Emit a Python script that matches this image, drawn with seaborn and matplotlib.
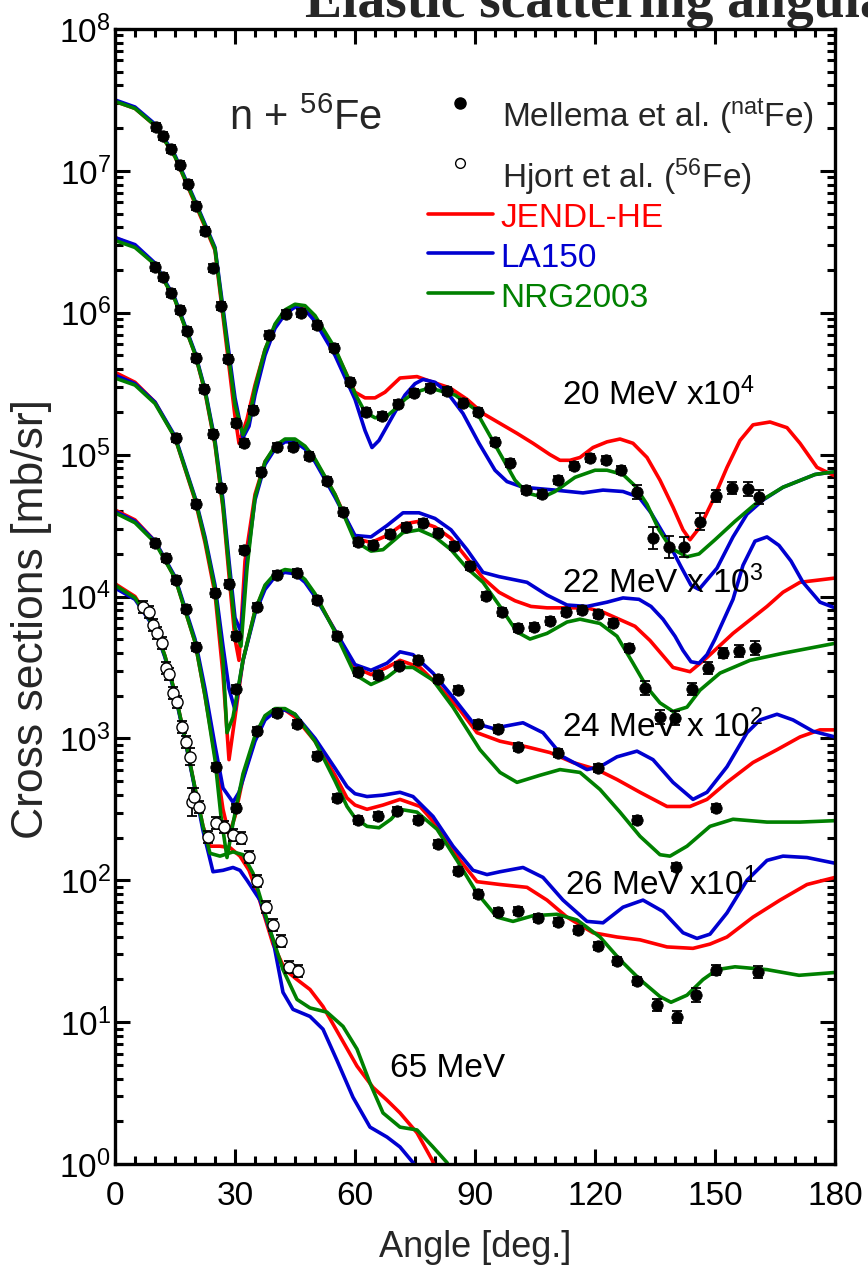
import numpy as np
import pandas as pd
import matplotlib
matplotlib.use("Agg")
import matplotlib.pyplot as plt
import seaborn as sns
from matplotlib.ticker import FixedLocator, MultipleLocator, FuncFormatter, NullFormatter

# ---------------------------------------------------------------------------
# Evaluated curves: (angle [deg], log10 of d(sigma)/d(Omega) [mb/sr]),
# already multiplied by the offset factor of each energy.
# ---------------------------------------------------------------------------
jendl_20 = [(0, 7.49), (5, 7.44), (10, 7.32), (15, 7.10), (20, 6.77), (25, 6.44), (28, 5.74), (30, 5.27),
            (31, 5.08), (33, 5.25), (35, 5.49), (37.5, 5.74), (40, 5.91), (42.5, 6.01), (45, 6.05),
            (47.5, 6.03), (50, 5.96), (55, 5.74), (60, 5.44), (62.5, 5.40), (65, 5.40), (67.5, 5.44),
            (71.25, 5.54), (75.5, 5.55), (79.5, 5.51), (83.75, 5.47), (88, 5.39), (92, 5.29), (96.25, 5.22),
            (100.5, 5.15), (104.5, 5.08), (108.75, 5.00), (111.25, 4.96), (113.75, 4.96), (116.25, 4.98),
            (119.5, 5.05), (123, 5.09), (126.25, 5.11), (129.5, 5.08), (133, 4.98), (136.25, 4.82),
            (139.5, 4.63), (142, 4.47), (143.75, 4.40), (146.25, 4.49), (149.5, 4.68), (153, 4.91),
            (156.25, 5.10), (159.5, 5.21), (163.75, 5.23), (168, 5.19), (171.25, 5.08), (175.5, 4.91),
            (180, 4.85)]
la150_20 = [(0, 7.50), (5, 7.45), (10, 7.33), (15, 7.11), (20, 6.79), (25, 6.46), (28, 5.82), (30, 5.40),
            (32, 5.12), (33.5, 5.20), (35, 5.42), (37.5, 5.70), (40, 5.89), (42.5, 5.99), (45, 6.04),
            (47.5, 6.02), (50, 5.94), (55, 5.70), (60, 5.39), (62.5, 5.17), (64.25, 5.05), (66, 5.10),
            (68, 5.20), (70, 5.30), (72.5, 5.42), (75, 5.50), (77, 5.53), (80, 5.51), (83, 5.44), (87, 5.29),
            (91, 5.08), (95, 4.89), (98, 4.81), (102, 4.77), (110, 4.75), (117, 4.73), (122, 4.75),
            (127, 4.74), (131, 4.70), (134, 4.59), (138, 4.40), (141.5, 4.21), (144, 4.08), (146, 4.05),
            (150.5, 4.20), (154.5, 4.42), (158, 4.58), (162, 4.68), (167, 4.77), (175, 4.86), (180, 4.88)]
nrg_20 = [(0, 7.49), (5, 7.44), (10, 7.32), (15, 7.10), (20, 6.78), (25, 6.45), (28, 5.78), (30, 5.35),
          (32, 5.14), (33.5, 5.24), (35, 5.47), (37.5, 5.74), (40, 5.92), (42.5, 6.02), (45, 6.06),
          (47.5, 6.05), (50, 5.98), (55, 5.75), (60, 5.43), (62.5, 5.30), (65, 5.26), (67.5, 5.26),
          (70, 5.32), (72.5, 5.39), (75, 5.44), (77.5, 5.46), (80, 5.46), (85, 5.42), (90, 5.32),
          (95, 5.07), (100, 4.82), (103, 4.73), (107, 4.70), (110, 4.74), (115, 4.84), (120, 4.89),
          (123, 4.89), (127, 4.86), (130, 4.78), (133, 4.65), (136, 4.47), (139, 4.34), (143, 4.28),
          (146, 4.30), (150, 4.40), (155, 4.53), (160, 4.65), (167, 4.77), (175, 4.86), (180, 4.88)]

jendl_22 = [(0, 6.53), (5, 6.47), (10, 6.34), (15, 6.09), (20, 5.71), (22.5, 5.44), (25, 5.07), (27, 4.62),
            (28.5, 4.15), (30, 3.70), (31, 3.55), (32.5, 4.25), (35, 4.72), (37.5, 4.95), (40, 5.05),
            (42.5, 5.10), (45, 5.10), (47.5, 5.05), (50, 4.96), (55, 4.72), (60, 4.41), (64, 4.38),
            (68, 4.43), (72, 4.51), (76, 4.53), (80, 4.49), (84, 4.41), (88, 4.27), (92, 4.13), (96, 4.03),
            (100, 3.97), (104, 3.93), (108, 3.92), (113, 3.92), (118, 3.92), (122, 3.89), (126, 3.84),
            (130, 3.79), (133.75, 3.69), (139.5, 3.50), (143.75, 3.47), (148, 3.57), (154.5, 3.74),
            (163, 3.93), (167, 4.03), (171.25, 4.10), (180, 4.13)]
la150_22 = [(0, 6.53), (5, 6.48), (10, 6.35), (15, 6.10), (20, 5.72), (22.5, 5.46), (25, 5.10), (27, 4.68),
            (28.5, 4.25), (30, 3.85), (31.5, 3.75), (33, 4.25), (35, 4.68), (37.5, 4.93), (40, 5.04),
            (42.5, 5.09), (45, 5.09), (47.5, 5.04), (50, 4.95), (55, 4.70), (60, 4.43), (64, 4.42),
            (68, 4.50), (72, 4.59), (76, 4.59), (80, 4.55), (84, 4.47), (88, 4.33), (92, 4.17), (96, 4.14),
            (103, 4.10), (108, 4.01), (113, 3.94), (118, 3.93), (123, 3.96), (127, 3.99), (131, 3.98),
            (134, 3.93), (137, 3.84), (140, 3.72), (142, 3.62), (144, 3.54), (146, 3.53), (148, 3.59),
            (150, 3.70), (154.5, 3.98), (157, 4.22), (160, 4.39), (163, 4.42), (166, 4.36), (169, 4.25),
            (172, 4.10), (176.25, 3.96), (180, 3.92)]
nrg_22 = [(0, 6.51), (5, 6.46), (10, 6.34), (15, 6.09), (20, 5.71), (22.5, 5.45), (25, 5.08), (27, 4.64),
          (28.5, 4.20), (30, 3.78), (31.5, 3.65), (33, 4.20), (35, 4.70), (37.5, 4.95), (40, 5.06),
          (42.5, 5.11), (45, 5.11), (47.5, 5.06), (50, 4.97), (55, 4.72), (60, 4.39), (64, 4.32), (67, 4.33),
          (72, 4.45), (76, 4.47), (80, 4.42), (84, 4.33), (88, 4.20), (92, 4.10), (96.25, 3.93),
          (100.5, 3.75), (103.75, 3.70), (108, 3.74), (113, 3.82), (116.25, 3.84), (121.25, 3.81),
          (125.5, 3.72), (129.5, 3.53), (133, 3.36), (136.25, 3.25), (139.5, 3.19), (143, 3.22),
          (146.25, 3.34), (151.25, 3.46), (158.75, 3.55), (167, 3.60), (180, 3.67)]

jendl_24 = [(0, 5.58), (5, 5.51), (10, 5.37), (15, 5.12), (20, 4.68), (22.5, 4.38), (25, 4.02), (27, 3.45),
            (28.5, 2.85), (30, 3.15), (32, 3.55), (35, 3.90), (37.5, 4.07), (40, 4.15), (42.5, 4.18),
            (45, 4.17), (47.5, 4.11), (50, 4.01), (55, 3.76), (60, 3.50), (64, 3.45), (68, 3.50),
            (71.25, 3.55), (76.25, 3.50), (81.25, 3.36), (86.25, 3.20), (90.5, 3.04), (96.25, 2.98),
            (103, 2.94), (108.75, 2.90), (114.5, 2.83), (120.5, 2.78), (125.5, 2.71), (131.25, 2.62),
            (138, 2.52), (143.75, 2.52), (148, 2.57), (153, 2.69), (159.5, 2.83), (165.5, 2.92),
            (171.25, 3.01), (176.25, 3.06), (180, 3.06)]
la150_24 = [(0, 5.56), (5, 5.50), (10, 5.37), (15, 5.13), (20, 4.70), (22.5, 4.42), (25, 4.08), (27, 3.65),
            (28.5, 3.35), (30, 3.20), (32, 3.55), (35, 3.88), (37.5, 4.05), (40, 4.14), (42.5, 4.17),
            (45, 4.16), (47.5, 4.10), (50, 4.00), (55, 3.76), (60, 3.52), (64, 3.48), (68, 3.53),
            (71.25, 3.61), (74.5, 3.59), (79.5, 3.46), (84.5, 3.29), (89.5, 3.11), (94.5, 3.07), (102, 3.11),
            (107, 3.04), (112, 2.87), (118, 2.78), (121.25, 2.80), (125.5, 2.87), (130.5, 2.91),
            (134.5, 2.85), (139.5, 2.69), (144.5, 2.57), (148, 2.62), (153, 2.80), (158, 3.04),
            (161.25, 3.13), (165.5, 3.17), (169.5, 3.13), (174.5, 3.05), (180, 3.01)]
nrg_24 = [(0, 5.54), (5, 5.49), (10, 5.36), (15, 5.12), (20, 4.69), (22.5, 4.40), (25, 4.05), (27, 3.55),
          (28, 3.04), (29.5, 3.15), (32, 3.55), (35, 3.90), (37.5, 4.08), (40, 4.16), (42.5, 4.19),
          (45, 4.18), (47.5, 4.12), (50, 4.02), (55, 3.75), (60, 3.45), (64, 3.38), (68, 3.43),
          (71.25, 3.50), (74.5, 3.50), (79.5, 3.41), (84.5, 3.22), (91.25, 2.92), (96.25, 2.76),
          (100.5, 2.69), (106.25, 2.74), (111.25, 2.78), (116.25, 2.76), (121.25, 2.64), (126.25, 2.48),
          (131.25, 2.31), (136.25, 2.18), (138.75, 2.17), (143, 2.24), (148.75, 2.38), (154.5, 2.43),
          (163, 2.41), (171.25, 2.41), (180, 2.42)]

jendl_26 = [(0, 4.61), (5, 4.54), (10, 4.39), (15, 4.13), (20, 3.68), (22.5, 3.30), (25, 2.88), (27, 2.50),
            (28.5, 2.32), (30, 2.45), (32, 2.72), (35, 3.00), (37.5, 3.15), (40, 3.20), (42.5, 3.20),
            (45, 3.15), (50, 2.98), (55, 2.74), (58, 2.58), (60, 2.53), (63, 2.50), (67, 2.53),
            (71.25, 2.57), (76.25, 2.52), (81.25, 2.36), (86.25, 2.14), (90.5, 1.99), (96.25, 1.97),
            (103, 1.95), (108, 1.86), (113, 1.74), (119.5, 1.63), (125.5, 1.60), (131.25, 1.58), (138, 1.53),
            (144.5, 1.52), (148.75, 1.55), (153, 1.60), (159.5, 1.74), (166.25, 1.86), (173, 1.97),
            (180, 2.02)]
la150_26 = [(0, 4.60), (5, 4.53), (10, 4.39), (15, 4.14), (20, 3.70), (22.5, 3.35), (25, 2.95), (27, 2.65),
            (29.5, 2.55), (31, 2.62), (33, 2.80), (35, 2.98), (37.5, 3.13), (40, 3.19), (42.5, 3.20),
            (45, 3.17), (50, 3.00), (55, 2.79), (58, 2.66), (60, 2.61), (63, 2.59), (67, 2.60),
            (71.25, 2.62), (74.5, 2.59), (79.5, 2.45), (84.5, 2.24), (89.5, 2.07), (93, 2.04), (96.25, 2.06),
            (102, 2.09), (107, 2.02), (112, 1.86), (118, 1.71), (122, 1.70), (127, 1.81), (132, 1.86),
            (137, 1.78), (142, 1.63), (145.5, 1.59), (148.75, 1.62), (153, 1.77), (158, 2.00), (163, 2.14),
            (167, 2.17), (173, 2.16), (180, 2.12)]
nrg_26 = [(0, 4.59), (5, 4.52), (10, 4.38), (15, 4.13), (20, 3.68), (22.5, 3.30), (25, 2.85), (26.5, 2.45),
          (28, 2.16), (29.5, 2.40), (32, 2.75), (35, 3.02), (37.5, 3.16), (40, 3.21), (42.5, 3.21),
          (45, 3.17), (50, 2.98), (55, 2.70), (58, 2.52), (60, 2.44), (63, 2.38), (66, 2.37), (69, 2.43),
          (71.25, 2.50), (75.5, 2.48), (80.5, 2.36), (85.5, 2.14), (90.5, 1.91), (95.5, 1.74), (99.5, 1.71),
          (104.5, 1.75), (110.5, 1.76), (115.5, 1.72), (121.25, 1.60), (126.25, 1.44), (131.25, 1.30),
          (136.25, 1.18), (139, 1.14), (143, 1.19), (147, 1.30), (150.5, 1.37), (155, 1.39), (163, 1.37),
          (171, 1.33), (180, 1.35)]

jendl_65 = [(0, 4.09), (5, 4.00), (10, 3.78), (12.5, 3.58), (15, 3.32), (17.5, 3.00), (20, 2.65), (22, 2.38),
            (23.75, 2.24), (26.25, 2.24), (28.75, 2.23), (31.25, 2.17), (33.5, 2.07), (35.5, 1.92),
            (39.5, 1.55), (42.5, 1.37), (45.5, 1.30), (48.75, 1.23), (52, 1.11), (56.25, 0.90), (60.5, 0.69),
            (64.5, 0.54), (68, 0.45), (71.25, 0.36), (75.5, 0.22), (79.25, 0.03), (82, -0.15)]
la150_65 = [(0, 4.06), (5, 3.98), (10, 3.77), (12.5, 3.57), (15, 3.31), (17.5, 2.99), (20, 2.64), (22, 2.35),
            (24.5, 2.06), (27, 2.07), (29.5, 2.09), (31.25, 2.07), (33, 2.00), (36.25, 1.86), (39.5, 1.58),
            (42, 1.21), (44.5, 1.09), (48.75, 1.04), (52, 0.95), (55.5, 0.73), (59.5, 0.47), (63.75, 0.26),
            (68, 0.19), (71.25, 0.12), (74.5, 0.01), (77, -0.15)]
nrg_65 = [(0, 4.08), (5, 3.99), (10, 3.78), (12.5, 3.58), (15, 3.32), (17.5, 3.00), (20, 2.65), (22, 2.38),
          (23.75, 2.19), (26.25, 2.17), (29.5, 2.20), (32, 2.18), (34.5, 2.05), (38.75, 1.65), (42, 1.37),
          (45.5, 1.16), (48.75, 1.10), (53, 1.07), (57, 0.97), (60.5, 0.81), (63.75, 0.57), (67, 0.36),
          (71.25, 0.26), (75.5, 0.24), (79.5, 0.12), (83, 0.01), (85, -0.10)]

# ---------------------------------------------------------------------------
# Measurements (log10 of scaled cross section) and relative uncertainties
# ---------------------------------------------------------------------------
mellema_20_ang = [10.25, 12, 14, 16.25, 18.25, 20.25, 22.5, 24.5, 26.5, 28.25, 30.25, 32.25, 34.5, 38.5, 42.75,
                  46.5, 50.5, 54.75, 58.75, 62.75, 66.75, 70.75, 74.75, 78.75, 83, 87, 90.75, 95, 98.75,
                  102.75, 106.75, 110.75, 114.75, 118.75, 122.75, 126.5, 130.5, 134.5, 138.5, 142.25, 146.25,
                  150.25, 154.25, 158.25, 161]
mellema_20 = [7.309, 7.246, 7.154, 7.042, 6.908, 6.753, 6.577, 6.316, 6.048, 5.674, 5.223, 5.082, 5.315, 5.844,
              5.992, 6.0, 5.914, 5.752, 5.512, 5.301, 5.273, 5.357, 5.435, 5.470, 5.449, 5.364, 5.301, 5.090,
              4.942, 4.751, 4.723, 4.822, 4.920, 4.977, 4.963, 4.892, 4.737, 4.413, 4.350, 4.350, 4.526,
              4.709, 4.765, 4.758, 4.702]
mellema_20_err = [0.07] * 36 + [0.12, 0.20, 0.20, 0.18, 0.15, 0.10, 0.10, 0.12, 0.12]
mellema_22_ang = [10, 12, 14, 16.25, 18, 20.25, 22.25, 24.5, 26.5, 28.5, 30.25, 32.25, 36.5, 40.5, 44.5, 48.5,
                  53, 57, 60.75, 64.5, 68.75, 72.75, 77, 80.75, 84.75, 88.75, 92.75, 96.75, 100.75, 104.75,
                  108.75, 112.75, 116.75, 120.75, 124.5, 128.5, 132.5, 136.25, 140, 144.25, 148.25, 152, 156,
                  160]
mellema_22 = [6.323, 6.252, 6.140, 6.020, 5.872, 5.681, 5.463, 5.146, 4.765, 4.089, 3.722, 4.328, 4.878, 5.054,
              5.054, 4.991, 4.815, 4.596, 4.385, 4.364, 4.441, 4.490, 4.519, 4.448, 4.357, 4.216, 4.004,
              3.891, 3.779, 3.786, 3.828, 3.891, 3.906, 3.877, 3.814, 3.638, 3.356, 3.152, 3.144, 3.349,
              3.497, 3.603, 3.617, 3.638]
mellema_22_err = [0.07] * 36 + [0.12, 0.12, 0.12, 0.10, 0.10, 0.08, 0.10, 0.12]
mellema_24_ang = [15.25, 20.25, 25, 30.25, 35.5, 40.5, 45.5, 50.5, 55.5, 60.75, 65.75, 71, 75.75, 80.75, 85.75,
                  90.75, 95.75, 100.75, 110.75, 120.75, 130.5, 140.25, 150.25]
mellema_24 = [5.118, 4.653, 4.025, 3.349, 3.927, 4.153, 4.166, 3.976, 3.722, 3.469, 3.448, 3.51, 3.553, 3.419,
              3.342, 3.102, 3.067, 2.940, 2.898, 2.792, 2.426, 2.094, 2.510]
mellema_24_err = [0.07] * 23
mellema_26_ang = [10, 12.75, 15.25, 17.75, 20.25, 25.25, 30.25, 35.5, 40.5, 45.5, 50.5, 55.5, 60.75, 65.75,
                  70.5, 75.75, 80.75, 85.75, 90.75, 95.75, 100.75, 105.75, 110.75, 115.75, 120.75, 125.5,
                  130.5, 135.5, 140.5, 145.25, 150.25, 160.75]
mellema_26 = [4.378, 4.272, 4.117, 3.913, 3.645, 2.799, 2.510, 3.053, 3.180, 3.102, 2.877, 2.581, 2.426, 2.454,
              2.489, 2.426, 2.257, 2.066, 1.904, 1.777, 1.784, 1.735, 1.707, 1.650, 1.538, 1.432, 1.291,
              1.122, 1.037, 1.192, 1.369, 1.355]
mellema_26_err = [0.07] * 27 + [0.10, 0.10, 0.12, 0.08, 0.10]
hjort_65_ang = [7, 8.5, 9.5, 10.5, 11.75, 12.75, 13.5, 14.5, 15.5, 16.75, 17.75, 18.75, 19.25, 19.75, 21,
                23.25, 25.25, 27.25, 29.5, 31.5, 33.5, 35.5, 37.75, 39.5, 41.5, 43.5, 45.75]
hjort_65 = [3.927, 3.891, 3.800, 3.743, 3.673, 3.497, 3.455, 3.321, 3.257, 3.081, 2.975, 2.870, 2.553, 2.588,
            2.517, 2.306, 2.405, 2.376, 2.320, 2.299, 2.165, 1.996, 1.813, 1.686, 1.573, 1.390, 1.362]
hjort_65_err = [0.10] * 11 + [0.15, 0.25, 0.15] + [0.10] * 13

models = ["JENDL-HE", "LA150", "NRG2003"]
model_colors = {"JENDL-HE": "#ff0000", "LA150": "#0000d0", "NRG2003": "#008000"}
curve_sets = {
    "20 MeV": {"JENDL-HE": jendl_20, "LA150": la150_20, "NRG2003": nrg_20},
    "22 MeV": {"JENDL-HE": jendl_22, "LA150": la150_22, "NRG2003": nrg_22},
    "24 MeV": {"JENDL-HE": jendl_24, "LA150": la150_24, "NRG2003": nrg_24},
    "26 MeV": {"JENDL-HE": jendl_26, "LA150": la150_26, "NRG2003": nrg_26},
    "65 MeV": {"JENDL-HE": jendl_65, "LA150": la150_65, "NRG2003": nrg_65},
}
energy_labels = [
    ("20 MeV x10$\\mathregular{^4}$", 111.75, 5.35),
    ("22 MeV x 10$\\mathregular{^3}$", 111.75, 4.025),
    ("24 MeV x 10$\\mathregular{^2}$", 111.75, 3.011),
    ("26 MeV x10$\\mathregular{^1}$", 112.5, 1.897),
    ("65 MeV", 68.75, 0.615),
]
decades = list(range(0, 9))

# ---------------------------------------------------------------------------
sns.set_style("ticks")
plt.rcParams["font.family"] = ["Liberation Sans", "DejaVu Sans"]
plt.rcParams["mathtext.fontset"] = "custom"
plt.rcParams["mathtext.rm"] = "Liberation Sans"
plt.rcParams["mathtext.it"] = "Liberation Sans:italic"
plt.rcParams["mathtext.bf"] = "Liberation Sans:bold"

W, H = 868, 1274
fig = plt.figure(figsize=(W / 100, H / 100), dpi=100)
ax = fig.add_axes([115 / W, 1 - 1164 / H, 720 / W, 1135 / H])

rows = []
for energy, curves in curve_sets.items():
    for model, pts in curves.items():
        for a, lg in pts:
            rows.append({"energy": energy, "model": model, "angle": a, "xs": 10.0 ** lg})
curves_df = pd.DataFrame(rows)

sns.lineplot(data=curves_df, x="angle", y="xs", hue="model", hue_order=models, units="energy",
             estimator=None, sort=False, palette=model_colors, linewidth=2.6, legend=False, ax=ax,
             zorder=2)

ax.set_yscale("log")

# Mellema et al. (filled) and Hjort et al. (open)
filled = pd.concat([
    pd.DataFrame({"angle": mellema_20_ang, "lg": mellema_20, "rel": mellema_20_err}),
    pd.DataFrame({"angle": mellema_22_ang, "lg": mellema_22, "rel": mellema_22_err}),
    pd.DataFrame({"angle": mellema_24_ang, "lg": mellema_24, "rel": mellema_24_err}),
    pd.DataFrame({"angle": mellema_26_ang, "lg": mellema_26, "rel": mellema_26_err}),
], ignore_index=True)
filled["xs"] = 10.0 ** filled["lg"]
hollow = pd.DataFrame({"angle": hjort_65_ang, "xs": 10.0 ** np.array(hjort_65), "rel": hjort_65_err})

for frame in (filled, hollow):
    v = frame["xs"].to_numpy()
    r = frame["rel"].to_numpy()
    ax.errorbar(frame["angle"], v, yerr=[v - v / (1 + r), v * r], fmt="none", ecolor="black",
                elinewidth=1.3, capsize=3.5, capthick=1.3, zorder=3)

sns.scatterplot(data=filled, x="angle", y="xs", color="black", s=68, edgecolor="black", linewidth=0.5,
                ax=ax, zorder=4, legend=False)
sns.scatterplot(data=hollow, x="angle", y="xs", color="white", s=64, edgecolor="black", linewidth=1.0,
                ax=ax, zorder=5, legend=False)

# axes
ax.set_xlim(0, 180)
ax.set_ylim(1, 1e8)
ax.xaxis.set_major_locator(MultipleLocator(30))
ax.xaxis.set_minor_locator(MultipleLocator(5))
ax.yaxis.set_major_locator(FixedLocator([10.0 ** k for k in decades]))
ax.yaxis.set_minor_locator(FixedLocator([m * 10.0 ** k for k in decades[:-1] for m in range(2, 10)]))
ax.yaxis.set_minor_formatter(NullFormatter())
ax.yaxis.set_major_formatter(FuncFormatter(lambda v, p: r"$\mathregular{10^{%d}}$" % int(round(np.log10(v)))))
ax.tick_params(which="both", direction="in", top=True, right=True, width=2.2, colors="black")
ax.tick_params(which="major", length=11, labelsize=24)
ax.tick_params(which="minor", length=6)
ax.tick_params(axis="y", which="major", pad=3)
ax.tick_params(axis="x", which="major", pad=12)
for sp in ax.spines.values():
    sp.set_linewidth(2.4)
    sp.set_color("black")

ax.set_xlabel("Angle [deg.]", fontsize=26)
ax.set_ylabel("Cross sections [mb/sr]", fontsize=32)
ax.xaxis.set_label_coords(0.5, -0.058)
ax.yaxis.set_label_coords(-0.087, 0.48)

# annotations
for txt, a, lg in energy_labels:
    ax.text(a, 10 ** lg, txt, fontsize=24, va="baseline", ha="left", color="black")
ax.text(28.5, 10 ** 7.288, "n + $\\mathregular{^{56}}$Fe", fontsize=30, va="baseline", ha="left")

# legend block (figure-pixel placement)
def fx(x):
    return x / W


def fy(y):
    return 1 - y / H


fig.lines.append(plt.Line2D([fx(460)], [fy(103)], marker="o", markersize=8, color="black",
                            markerfacecolor="black", transform=fig.transFigure))
fig.lines.append(plt.Line2D([fx(460)], [fy(163)], marker="o", markersize=7, color="black",
                            markerfacecolor="white", markeredgewidth=1.0, transform=fig.transFigure))
fig.text(fx(502), fy(127), "Mellema et al. ($\\mathregular{^{nat}}$Fe)", fontsize=24, va="baseline")
fig.text(fx(502), fy(188), "Hjort et al. ($\\mathregular{^{56}}$Fe)", fontsize=24, va="baseline")
for model, y_line, y_txt in (("JENDL-HE", 214, 227), ("LA150", 253, 267), ("NRG2003", 293, 307)):
    fig.lines.append(plt.Line2D([fx(428), fx(493)], [fy(y_line), fy(y_line)], color=model_colors[model],
                                linewidth=2.6, transform=fig.transFigure))
    fig.text(fx(500), fy(y_txt), model, fontsize=24, va="baseline", color=model_colors[model])

fig.text(fx(305), fy(17), "Elastic scattering angular distributions", fontsize=40, fontweight="bold",
         family=["Liberation Serif", "DejaVu Serif"], va="baseline", ha="left")

fig.savefig("out.png", dpi=100)
